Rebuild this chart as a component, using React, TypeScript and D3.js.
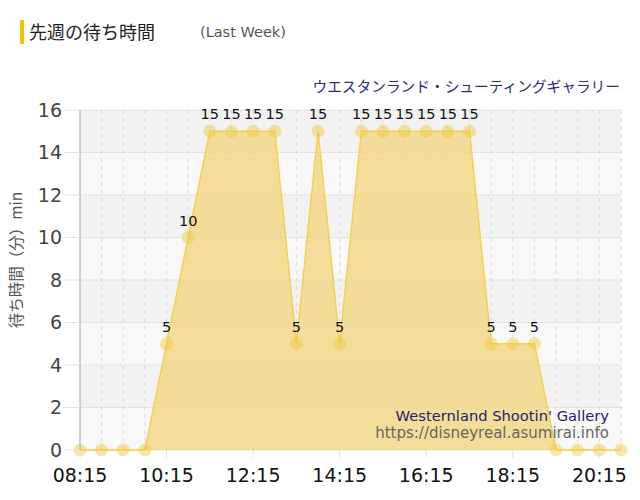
import * as d3 from 'd3';

const times = [
    '08:15', '08:45', '09:15', '09:45', '10:15', '10:45', '11:15', '11:45', '12:15',
    '12:45', '13:15', '13:45', '14:15', '14:45', '15:15', '15:45', '16:15', '16:45',
    '17:15', '17:45', '18:15', '18:45', '19:15', '19:45', '20:15', '20:45',
];
const waits = [0, 0, 0, 0, 5, 10, 15, 15, 15, 15, 5, 15, 5, 15, 15, 15, 15, 15, 15, 5, 5, 5, 0, 0, 0, 0];
const xTickLabels = ['08:15', '10:15', '12:15', '14:15', '16:15', '18:15', '20:15'];
const yTicks = [0, 2, 4, 6, 8, 10, 12, 14, 16];

const toMin = (t: string) => {
    const [h, m] = t.split(':').map(Number);
    return h * 60 + m;
};

const font = '"DejaVu Sans", Verdana, sans-serif';
const jpFont = '"Noto Sans CJK JP", "DejaVu Sans", sans-serif';

export default function App() {
    const width = 640,
        height = 500;
    const margin = { top: 110, right: 19, bottom: 50, left: 80 };
    const innerW = width - margin.left - margin.right;
    const innerH = height - margin.top - margin.bottom;

    const x = d3
        .scaleLinear()
        .domain([toMin(times[0]), toMin(times[times.length - 1])])
        .range([0, innerW]);
    const y = d3.scaleLinear().domain([0, 16]).range([innerH, 0]);

    const data = times.map((t, i) => ({ t: toMin(t), v: waits[i] }));

    const area = d3
        .area<{ t: number; v: number }>()
        .x((d) => x(d.t))
        .y0(y(0))
        .y1((d) => y(d.v));
    const line = d3
        .line<{ t: number; v: number }>()
        .x((d) => x(d.t))
        .y((d) => y(d.v));

    const bands = yTicks.slice(0, -1);

    return (
        <svg
            width={width}
            height={height}
            style={{ position: 'absolute', left: 0, top: 0, background: '#fff' }}
        >
            {/* header */}
            <rect x={20} y={20} width={4} height={24} fill="#f5c400" />
            <text x={29} y={39} fontFamily={jpFont} fontSize={18} fill="#222">
                先週の待ち時間
            </text>
            <text x={200} y={37} fontFamily={font} fontSize={14.5} fill="#555">
                (Last Week)
            </text>
            <text
                x={620}
                y={92}
                textAnchor="end"
                fontFamily={jpFont}
                fontSize={14.7}
                fill="#2b2b7a"
            >
                ウエスタンランド・シューティングギャラリー
            </text>

            <text
                transform="translate(22,260) rotate(-90)"
                textAnchor="middle"
                fontFamily={jpFont}
                fontSize={15.5}
                fill="#555"
            >
                待ち時間（分）min
            </text>

            <g transform={`translate(${margin.left},${margin.top})`}>
                {bands.map((b, i) => (
                    <rect
                        key={b}
                        x={0}
                        y={y(b + 2)}
                        width={innerW}
                        height={y(b) - y(b + 2)}
                        fill={i % 2 === 0 ? '#f8f8f8' : '#f2f2f2'}
                    />
                ))}
                {times.map((t) => (
                    <line
                        key={t}
                        x1={x(toMin(t))}
                        x2={x(toMin(t))}
                        y1={0}
                        y2={innerH}
                        stroke="#dcdcdc"
                        strokeDasharray="4,4"
                    />
                ))}
                {yTicks.map((v) => (
                    <line
                        key={v}
                        x1={0}
                        x2={innerW}
                        y1={y(v)}
                        y2={y(v)}
                        stroke="#cfcfcf"
                        strokeDasharray="1,1"
                    />
                ))}

                <path d={area(data) ?? ''} fill="#f2d680" fillOpacity={0.8} />
                <path d={line(data) ?? ''} fill="none" stroke="#f5d050" strokeWidth={1.5} />

                {data.map((d, i) => (
                    <circle
                        key={i}
                        cx={x(d.t)}
                        cy={y(d.v)}
                        r={6.5}
                        fill="#f0c83c"
                        fillOpacity={0.45}
                    />
                ))}
                {data
                    .filter((d) => d.v > 0)
                    .map((d, i) => (
                        <text
                            key={i}
                            x={x(d.t)}
                            y={y(d.v) - 12}
                            textAnchor="middle"
                            fontFamily={font}
                            fontSize={14.5}
                            fill="#111"
                        >
                            {d.v}
                        </text>
                    ))}

                {/* axes */}
                <line x1={0} x2={0} y1={0} y2={innerH} stroke="#aaa" />
                {yTicks.map((v) => (
                    <g key={v} transform={`translate(0,${y(v)})`}>
                        <line x1={-15} x2={0} stroke="#e2e2e2" />
                        <text
                            x={-18}
                            dy="0.36em"
                            textAnchor="end"
                            fontFamily={font}
                            fontSize={19}
                            fill="#444"
                        >
                            {v}
                        </text>
                    </g>
                ))}
                {xTickLabels.map((t) => (
                    <g key={t} transform={`translate(${x(toMin(t))},${innerH})`}>
                        <line y1={0} y2={8} stroke="#e2e2e2" />
                        <text
                            y={32}
                            textAnchor="middle"
                            fontFamily={font}
                            fontSize={19}
                            fill="#111"
                        >
                            {t}
                        </text>
                    </g>
                ))}

                <text
                    x={529}
                    y={311}
                    textAnchor="end"
                    fontFamily={font}
                    fontSize={14.7}
                    fill="#23236e"
                >
                    Westernland Shootin' Gallery
                </text>
                <text
                    x={529}
                    y={328}
                    textAnchor="end"
                    fontFamily={font}
                    fontSize={15}
                    fill="#666"
                >
                    https://disneyreal.asumirai.info
                </text>
            </g>
        </svg>
    );
}
